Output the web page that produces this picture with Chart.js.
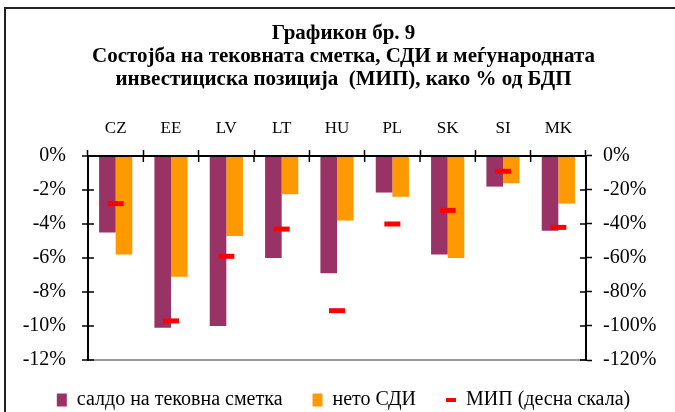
<!DOCTYPE html>
<html>
<head>
<meta charset="utf-8">
<script src="https://cdn.jsdelivr.net/npm/chart.js@4"></script>
<style>
  body { margin: 0; background: #fff; overflow: hidden; }
  .frame { position: absolute; left: 4px; top: 7px; width: 700px; height: 500px; border: 2px solid #222; }
  .chart-container { position: absolute; left: 0; top: 0; width: 675px; height: 412px; }
</style>
</head>
<body>
<div class="frame"></div>
<div class="chart-container">
  <canvas id="chart"></canvas>
</div>
<script>
const countries = ['CZ', 'EE', 'LV', 'LT', 'HU', 'PL', 'SK', 'SI', 'MK'];
const currentAccount = [-4.5, -10.1, -10.0, -6.0, -6.9, -2.15, -5.8, -1.8, -4.4];
const netFdi = [-5.8, -7.1, -4.7, -2.25, -3.8, -2.4, -6.0, -1.6, -2.8];
const iip = [-28, -97, -59, -43, -91, -40, -32, -9, -42];
const titleLines = [
    'Графикон бр. 9',
    'Состојба на тековната сметка, СДИ и меѓународната',
    'инвестициска позиција  (МИП), како % од БДП'
];
const seriesNames = ['салдо на тековна сметка', 'нето СДИ', 'МИП (десна скала)'];

const serif = 'Liberation Serif, Times New Roman, serif';

// excel-style ticks that cross the axis line
const crossTicks = {
    id: 'crossTicks',
    afterDraw(chart) {
        const {ctx, chartArea, scales} = chart;
        ctx.save();
        ctx.strokeStyle = '#000';
        ctx.lineWidth = 1.5;
        ctx.beginPath();
        const xs = scales.x;
        for (let i = 0; i <= countries.length; i++) {
            const x = xs.left + i * xs.width / countries.length;
            ctx.moveTo(x, chartArea.top);
            ctx.lineTo(x, chartArea.top + 6);
        }
        scales.y.ticks.forEach(t => {
            const y = scales.y.getPixelForValue(t.value);
            ctx.moveTo(chartArea.left, y);
            ctx.lineTo(chartArea.left + 6, y);
        });
        scales.y1.ticks.forEach(t => {
            const y = scales.y1.getPixelForValue(t.value);
            ctx.moveTo(chartArea.right - 6, y);
            ctx.lineTo(chartArea.right, y);
        });
        ctx.stroke();
        ctx.restore();
    }
};

new Chart(document.getElementById('chart').getContext('2d'), {
    type: 'bar',
    data: {
        labels: countries,
        datasets: [{
            label: seriesNames[0],
            data: currentAccount,
            backgroundColor: '#993366',
            yAxisID: 'y',
            order: 2,
        }, {
            label: seriesNames[1],
            data: netFdi,
            backgroundColor: '#FF9900',
            yAxisID: 'y',
            order: 2,
        }, {
            type: 'line',
            label: seriesNames[2],
            data: iip,
            yAxisID: 'y1',
            showLine: false,
            pointStyle: 'line',
            pointRadius: 8,
            pointHoverRadius: 8,
            pointBorderWidth: 5,
            pointBorderColor: '#FF0000',
            borderColor: '#FF0000',
            backgroundColor: '#FF0000',
            order: 1,
        }]
    },
    options: {
        responsive: true,
        maintainAspectRatio: false,
        animation: false,
        layout: { padding: { left: 12, right: 0, top: 0, bottom: -8 } },
        datasets: {
            bar: { categoryPercentage: 0.6, barPercentage: 1 }
        },
        scales: {
            x: {
                position: 'top',
                grid: { drawOnChartArea: false, tickLength: 6, tickColor: '#000', tickWidth: 1.5 },
                border: { color: '#000', width: 2 },
                ticks: { color: '#000', padding: 11, font: { family: serif, size: 17 } },
                afterFit: s => { s.height = 65; }
            },
            y: {
                position: 'left',
                min: -12,
                max: 0,
                ticks: { stepSize: 2, color: '#000', padding: 16, font: { family: serif, size: 20 }, callback: v => v + '%' },
                grid: {
                    tickLength: 6,
                    tickColor: '#000',
                    tickWidth: 1.5,
                    lineWidth: 2,
                    color: c => (c.tick && c.tick.value === -12) ? '#999' : 'rgba(0,0,0,0)'
                },
                border: { color: '#000', width: 2 },
                afterFit: s => { s.width = 76; }
            },
            y1: {
                position: 'right',
                min: -120,
                max: 0,
                ticks: { stepSize: 20, color: '#000', padding: 11, font: { family: serif, size: 20 }, callback: v => v + '%' },
                grid: { drawOnChartArea: false, tickLength: 6, tickColor: '#000', tickWidth: 1.5 },
                border: { color: '#000', width: 2 },
                afterFit: s => { s.width = 89; }
            }
        },
        plugins: {
            title: {
                display: true,
                text: titleLines,
                color: '#000',
                font: { family: serif, size: 21, weight: 'bold', lineHeight: 1.095 },
                padding: { top: 22, bottom: 0 }
            },
            legend: {
                position: 'bottom',
                labels: {
                    color: '#000',
                    font: { family: serif, size: 20 },
                    padding: 30,
                    usePointStyle: true,
                    pointStyleWidth: 10,
                    boxHeight: 13,
                    sort: (a, b) => a.datasetIndex - b.datasetIndex,
                    generateLabels: chart => {
                        const items = Chart.defaults.plugins.legend.labels.generateLabels(chart);
                        return items.map(it => {
                            if (it.datasetIndex === 2) {
                                return { ...it, pointStyle: 'line', strokeStyle: '#FF0000', lineWidth: 4 };
                            }
                            return { ...it, pointStyle: 'rect', lineWidth: 0, strokeStyle: it.fillStyle };
                        });
                    }
                }
            },
            tooltip: { enabled: false }
        }
    },
    plugins: [crossTicks]
});
</script>
</body>
</html>
